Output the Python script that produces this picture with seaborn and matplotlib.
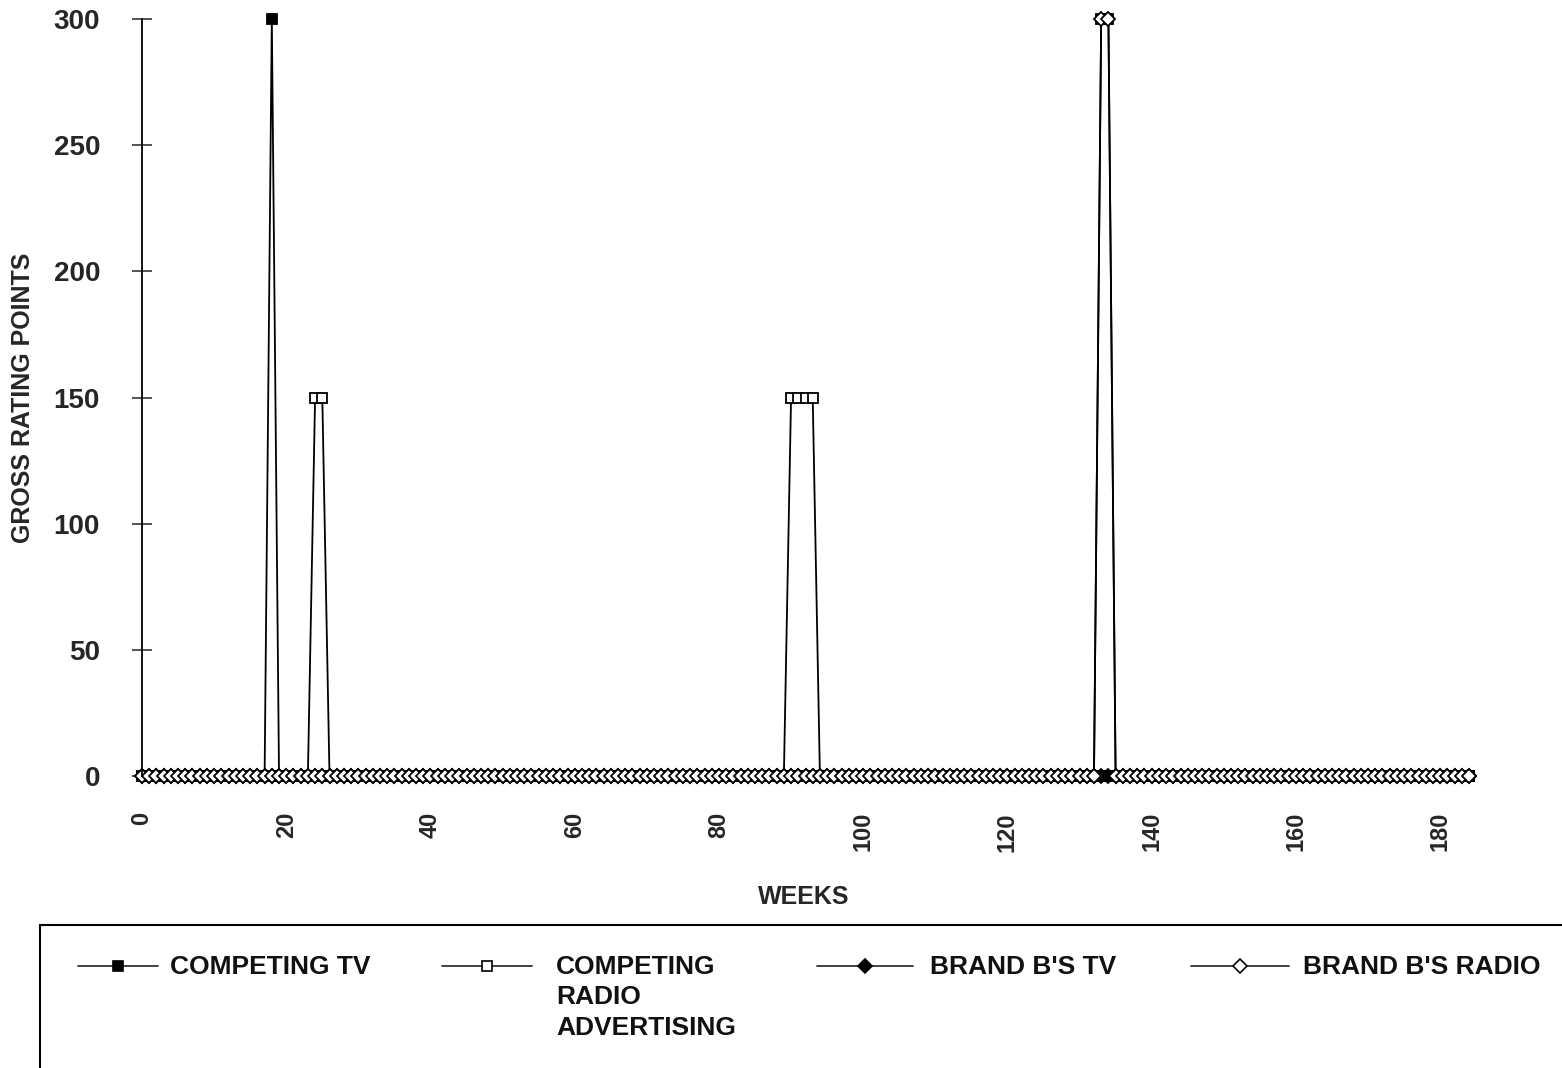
import numpy as np
import pandas as pd
import matplotlib
matplotlib.use("Agg")
import matplotlib.pyplot as plt
from matplotlib.lines import Line2D
from matplotlib.patches import Rectangle
import seaborn as sns

# Weekly schedule, weeks 0..184
weeks = np.arange(0, 185)

# Weeks that carry gross rating points (all other weeks are 0)
competing_tv_weeks = [18]
competing_tv_grp = [300]

competing_radio_weeks = [24, 25, 90, 91, 92, 93, 133, 134]
competing_radio_grp = [150, 150, 150, 150, 150, 150, 300, 300]

brand_tv_weeks = []
brand_tv_grp = []

brand_radio_weeks = [133, 134]
brand_radio_grp = [300, 300]

series_labels = ["COMPETING TV", "COMPETING\nRADIO\nADVERTISING",
                 "BRAND B'S TV", "BRAND B'S RADIO"]
x_ticks = [0, 20, 40, 60, 80, 100, 120, 140, 160, 180]
y_ticks = [0, 50, 100, 150, 200, 250, 300]


def weekly(active_weeks, values):
    grp = np.zeros(len(weeks))
    grp[np.searchsorted(weeks, active_weeks)] = values
    return grp


df = pd.DataFrame({
    "week": weeks,
    "competing_tv": weekly(competing_tv_weeks, competing_tv_grp),
    "competing_radio": weekly(competing_radio_weeks, competing_radio_grp),
    "brand_tv": weekly(brand_tv_weeks, brand_tv_grp),
    "brand_radio": weekly(brand_radio_weeks, brand_radio_grp),
})

sns.set_style("white")
plt.rcParams["font.family"] = ["Liberation Sans", "DejaVu Sans"]

W, H = 1562, 1068
fig = plt.figure(figsize=(W / 100, H / 100), dpi=100)
ax_left, ax_right, ax_top, ax_bottom = 142, 1469, 19, 776
ax = fig.add_axes([ax_left / W, 1 - ax_bottom / H,
                   (ax_right - ax_left) / W, (ax_bottom - ax_top) / H])

styles = [
    ("competing_tv", "s", "black", 7.2),
    ("competing_radio", "s", "white", 7.2),
    ("brand_tv", "D", "black", 7.4),
    ("brand_radio", "D", "white", 7.4),
]

for col, marker, face, ms in styles:
    sns.lineplot(data=df, x="week", y=col, ax=ax, color="black",
                 estimator=None, linewidth=1.3, marker=marker,
                 markersize=ms, markerfacecolor=face,
                 markeredgecolor="black", markeredgewidth=1.3,
                 clip_on=False, legend=False)

ax.set_xlim(0, 184)
ax.set_ylim(0, 300)
ax.set_xticks(x_ticks)
ax.set_yticks(y_ticks)
ax.set_xticklabels([str(v) for v in x_ticks], rotation=90,
                   fontsize=17, fontweight="bold")
ax.set_yticklabels([str(v) for v in y_ticks], fontsize=20, fontweight="bold")
ax.tick_params(axis="x", length=0, pad=26)
ax.tick_params(axis="y", direction="inout", length=15, width=1.1, pad=22.7,
               left=True)

for side in ("top", "right", "bottom"):
    ax.spines[side].set_visible(False)
ax.spines["left"].set_linewidth(1.3)
ax.spines["left"].set_color("black")

ax.set_xlabel("WEEKS", fontsize=18, fontweight="bold")
ax.xaxis.set_label_coords(0.4989, -0.1440)
ax.set_ylabel("GROSS RATING POINTS", fontsize=18, fontweight="bold")
ax.yaxis.set_label_coords(-0.0806, 0.5)


def fx(px):
    return px / W


def fy(py):
    return 1 - py / H


# Legend box
fig.add_artist(Rectangle((fx(40), fy(1075)), fx(1580) - fx(40),
                         fy(925) - fy(1075), transform=fig.transFigure,
                         facecolor="none", edgecolor="black", linewidth=1.5))

handle_spans = [(78, 158), (442, 532), (817, 913), (1191, 1289)]
text_starts = [170, 556, 930, 1303]
row_y = 966
for (col, marker, face, ms), label, (h0, h1), tx in zip(
        styles, series_labels, handle_spans, text_starts):
    fig.add_artist(Line2D([fx(h0), fx(h1)], [fy(row_y), fy(row_y)],
                          transform=fig.transFigure, color="#333333",
                          linewidth=1.3))
    fig.add_artist(Line2D([fx((h0 + h1) / 2)], [fy(row_y)],
                          transform=fig.transFigure, linestyle="none",
                          marker=marker, markersize=ms,
                          markerfacecolor=face, markeredgecolor="black",
                          markeredgewidth=1.2))
    fig.text(fx(tx), fy(row_y - 11), label, fontsize=19, fontweight="bold",
             ha="left", va="top", linespacing=1.33, color="#111111")

fig.savefig("out.png", dpi=100)
